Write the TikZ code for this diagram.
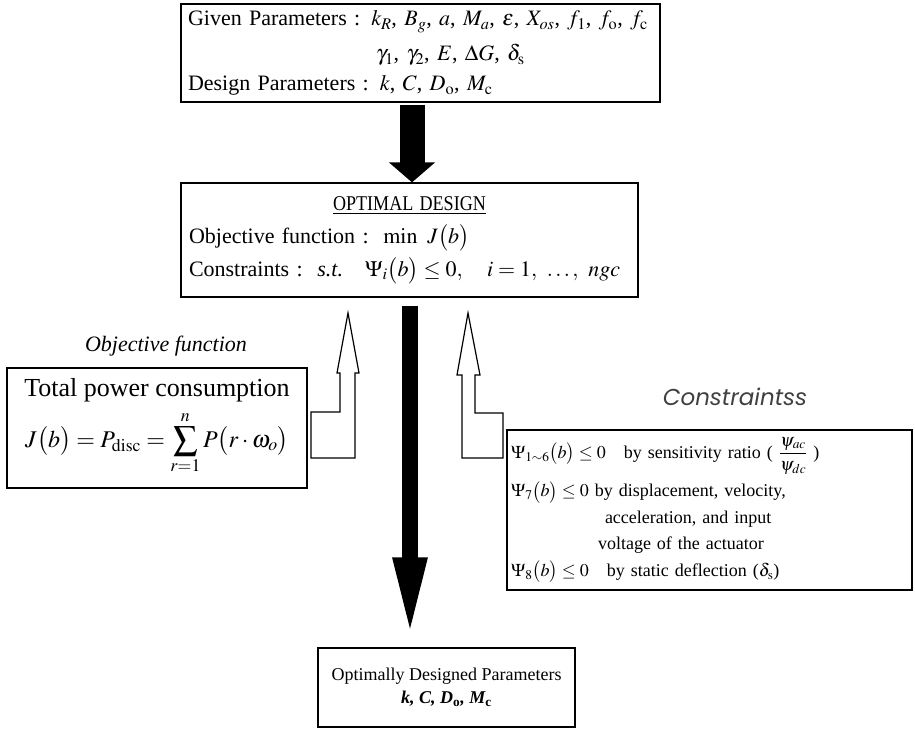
\documentclass[tikz,border=0pt]{standalone}
\usepackage{amsmath}
\usepackage{graphicx}
\usepackage{mathptmx}
\usepackage[no-math]{fontspec}
\setmainfont{Liberation Serif}
\newfontfamily\geofont{Poppins}
\usepackage{tikz}
\usetikzlibrary{arrows.meta, positioning, calc}

\tikzset{
  box/.style={draw, line width=1.2pt, rectangle, inner sep=0pt},
  hollow/.style={draw, line width=1.2pt, fill=white, line join=miter},
  bigdown/.style={line width=#1, draw=black}
}

\begin{document}
\begin{tikzpicture}[x=1pt, y=-1pt, font=\fontsize{18}{30}\selectfont]
  \useasboundingbox (0,0) rectangle (915,729);

  % input and design boxes
  \node[box, minimum width=479, minimum height=98, text width=465, align=left,
        font=\fontsize{22}{30}\selectfont] (given) at (420.5,53)
    {Given Parameters : $k_R$, $B_g$, $a$, $M_a$, $\varepsilon$, $X_{os}$, $f_1$, $f_{\mathrm{o}}$, $f_{\mathrm{c}}$\\[5pt]
     \hspace*{188pt}$\gamma_1$, $\gamma_2$, $E$, $\Delta G$, $\delta_{\mathrm{s}}$\\
     Design Parameters : $k$, $C$, $D_{\mathrm{o}}$, $M_{\mathrm{c}}$};

  \node[box, minimum width=457, minimum height=114, text width=441, align=left,
        font=\fontsize{22}{33}\selectfont] (design) at (409.5,240)
    {\makebox[441pt]{\scalebox{0.86}[1]{\fontsize{21}{22}\selectfont\underline{OPTIMAL DESIGN}}}\\
     Objective function :\ \ $\min\ J\bigl(b\bigr)$\\
     Constraints :\ \ \textit{s.t.}\quad $\Psi_i\bigl(b\bigr)\le 0,\quad i=1,\ \ldots,\ ngc$};

  % side boxes
  \node[font=\fontsize{22}{26}\selectfont\itshape] (objlabel) at (166,346) {Objective function};
  \node[box, minimum width=300, minimum height=120, align=center,
        font=\fontsize{26}{30}\selectfont] (objbox) at (157,428)
    {Total power consumption\\[8pt]
     {\fontsize{24}{26}\selectfont$\displaystyle J\bigl(b\bigr)=P_{\mathrm{disc}}=\sum_{r=1}^{n}P\bigl(r\cdot\omega_o\bigr)$\rule[-30pt]{0pt}{0pt}}};

  \node[font=\fontsize{23}{26}\geofont\itshape, text=black!75] (conlabel) at (735,397) {Constraintss};
  \node[box, minimum width=405, minimum height=160, text width=397, align=left,
        font=\fontsize{18}{26.5}\selectfont] (conbox) at (709.5,510)
    {$\Psi_{1\sim6}\bigl(b\bigr)\le 0$\quad by sensitivity ratio ( $\dfrac{\psi_{ac}}{\psi_{dc}}$ )\\[6pt]
     $\Psi_7\bigl(b\bigr)\le 0$ by displacement, velocity,\\
     \hspace*{94pt}acceleration, and input\\
     \hspace*{87pt}voltage of the actuator\\
     $\Psi_8\bigl(b\bigr)\le 0$\quad by static deflection ($\delta_{\mathrm{s}}$)};

  % result box
  \node[box, minimum width=257, minimum height=79, align=center,
        font=\fontsize{18}{23}\selectfont] (result) at (446.5,687.5)
    {Optimally Designed Parameters\\
     {\bfseries\itshape k, C, D\textsubscript{\upshape o}, M\textsubscript{\upshape c}}};

  % black arrows
  \draw[bigdown=25pt, -{Triangle[length=20pt, width=45pt]}, shorten <=2pt]
    ([xshift=-8.5pt]given.south) -- ([xshift=2.5pt]design.north);
  \draw[bigdown=16pt, -{Triangle[length=84pt, width=30pt]}, shorten <=8pt, shorten >=6pt]
    ([xshift=0.5pt]design.south) -- ([xshift=-36.5pt]result.north);

  % hollow arrows from the side boxes
  \draw[hollow] (311,412) -- (340,412) -- (340,373) -- (337,373) -- (348,313)
    -- (359,373) -- (355,373) -- (355,458) -- (311,458) -- cycle;
  \draw[hollow] (503,413) -- (475,413) -- (475,375) -- (480,375) -- (468,313)
    -- (457,375) -- (462,375) -- (462,458) -- (503,458) -- cycle;
\end{tikzpicture}
\end{document}
